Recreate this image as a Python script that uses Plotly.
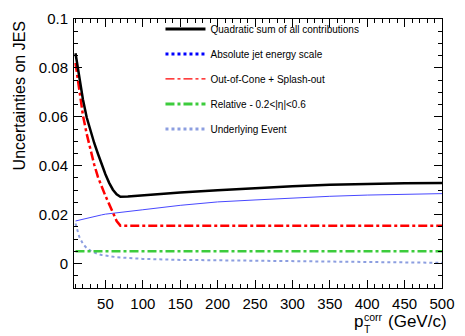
import plotly.graph_objects as go

pt = [10, 15, 20, 25, 30, 35, 40, 45, 50, 55, 60, 65, 70, 80, 100, 150, 200, 250, 300, 350, 400, 450, 500]
quad_sum = [0.086, 0.0758, 0.0670, 0.0597, 0.0541, 0.0493, 0.0449, 0.0406, 0.0365, 0.0330, 0.0302, 0.0283, 0.0273,
            0.0274, 0.0279, 0.0291, 0.030, 0.0309, 0.0316, 0.0322, 0.0326, 0.0328, 0.0329]
absolute_jes = [0.0174, 0.0178, 0.0182, 0.0186, 0.019, 0.0193, 0.0196, 0.0199, 0.0202, 0.0204, 0.0206, 0.0208, 0.021,
                0.0213, 0.022, 0.0238, 0.0252, 0.026, 0.0268, 0.0275, 0.028, 0.0283, 0.0286]
out_of_cone = [0.082, 0.0705, 0.0605, 0.0530, 0.0464, 0.0405, 0.0354, 0.0313, 0.0277, 0.0243, 0.0208, 0.0174, 0.0155,
               0.0155, 0.0155, 0.0155, 0.0155, 0.0155, 0.0155, 0.0155, 0.0155, 0.0155, 0.0155]
relative = [0.005] * len(pt)
underlying = [0.0164, 0.011, 0.008, 0.0063, 0.0053, 0.0045, 0.0039, 0.0035, 0.0032, 0.0029, 0.0027, 0.0026, 0.0025,
              0.0023, 0.0019, 0.0015, 0.0013, 0.0011, 0.0009, 0.0008, 0.0006, 0.0005, 0.0003]

legend_names = ["Quadratic sum of all contributions", "Absolute jet energy scale",
                "Out-of-Cone + Splash-out", "Relative - 0.2<|η|<0.6", "Underlying Event"]

fig = go.Figure()

# plotted curves
fig.add_trace(go.Scatter(x=pt, y=underlying, mode="lines", showlegend=False,
                         line=dict(color="#8c9ee0", width=2, dash="dot")))
fig.add_trace(go.Scatter(x=pt, y=relative, mode="lines", showlegend=False,
                         line=dict(color="#3ccc3c", width=2.5, dash="dashdot")))
fig.add_trace(go.Scatter(x=pt, y=absolute_jes, mode="lines", showlegend=False,
                         line=dict(color="#4848ff", width=1)))
fig.add_trace(go.Scatter(x=pt, y=out_of_cone, mode="lines", showlegend=False,
                         line=dict(color="#ff0000", width=2.5, dash="dashdot")))
fig.add_trace(go.Scatter(x=pt, y=quad_sum, mode="lines", showlegend=False,
                         line=dict(color="black", width=2.5)))

# legend entries
leg_styles = [
    dict(color="black", width=3),
    dict(color="#0000ff", width=3, dash="dot"),
    dict(color="#ff0000", width=1.2, dash="dashdot"),
    dict(color="#3ccc3c", width=3, dash="dashdot"),
    dict(color="#8c9ee0", width=3, dash="dot"),
]
for i, (name, st) in enumerate(zip(legend_names, leg_styles)):
    fig.add_trace(go.Scatter(x=[None], y=[None], mode="lines", name=name, line=st,
                             legendgroup=f"g{i}", showlegend=True))

axis_common = dict(showgrid=False, zeroline=False, showline=True, linecolor="black", linewidth=1,
                   mirror="allticks", ticks="inside", ticklen=8, tickcolor="black",
                   tickfont=dict(family="Liberation Sans", size=15, color="black"))


def px_x(p):
    return (p - 74) / 375


def px_y(p):
    return (288 - p) / 278


title_font = dict(family="Liberation Sans", size=17, color="black")
small_font = dict(family="Liberation Sans", size=10.5, color="black")

fig.update_layout(
    width=465, height=336,
    margin=dict(l=74, r=16, t=10, b=48),
    plot_bgcolor="white", paper_bgcolor="white",
    font=dict(family="Liberation Sans", color="black"),
    xaxis=dict(range=[8, 500], tick0=0, dtick=50, ticklabelstandoff=2,
               minor=dict(ticks="inside", dtick=10, ticklen=4, tickcolor="black"),
               **axis_common),
    yaxis=dict(range=[-0.01, 0.1], tick0=0, dtick=0.02, ticklabelstandoff=2,
               minor=dict(ticks="inside", dtick=0.005, ticklen=4, tickcolor="black"),
               **axis_common),
    legend=dict(x=0.235, y=1.017, xanchor="left", yanchor="top", bgcolor="rgba(0,0,0,0)",
                font=dict(family="Liberation Sans", size=10, color="black"),
                traceorder="grouped", tracegroupgap=6, itemwidth=40),
    annotations=[
        dict(text="Uncertainties on JES", xref="paper", yref="paper", x=-0.147, y=1.0,
             xanchor="center", yanchor="top", textangle=-90, showarrow=False,
             font=dict(family="Liberation Sans", size=16, color="black")),
        dict(text="p", xref="paper", yref="paper", x=px_x(357), y=px_y(322.5),
             xanchor="left", yanchor="middle", showarrow=False, font=title_font),
        dict(text="corr", xref="paper", yref="paper", x=px_x(367), y=px_y(317.5),
             xanchor="left", yanchor="middle", showarrow=False, font=small_font),
        dict(text="T", xref="paper", yref="paper", x=px_x(367), y=px_y(330),
             xanchor="left", yanchor="middle", showarrow=False, font=small_font),
        dict(text="(GeV/c)", xref="paper", yref="paper", x=px_x(456), y=px_y(322.5),
             xanchor="right", yanchor="middle", showarrow=False, font=title_font),
    ],
)

fig.write_html("out.html")
